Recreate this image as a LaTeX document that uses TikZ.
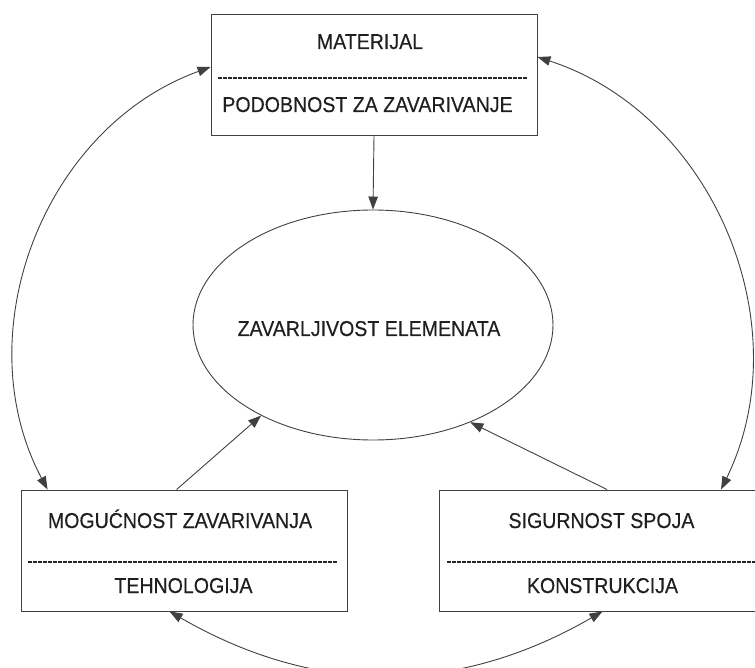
\documentclass[tikz,border=0pt]{standalone}
\usepackage{fontspec}
\setmainfont[FakeStretch=0.91,FakeBold=0.4]{Liberation Sans}
\usetikzlibrary{arrows.meta,shapes.geometric}

\definecolor{linegray}{HTML}{404040}

\tikzset{
  box/.style={rectangle, draw=linegray, line width=0.9pt, minimum width=326pt, minimum height=121pt, inner sep=0pt},
  oval/.style={ellipse, draw=linegray, line width=0.9pt, minimum width=360pt, minimum height=230pt, inner sep=0pt},
  txt/.style={font=\fontsize{21.5}{25}\selectfont, text=black!88, inner sep=0pt, anchor=base},
  sep/.style={line width=1.3pt, dash pattern=on 3.5pt off 1.5pt, black!85},
  link/.style={line width=0.9pt, linegray}
}

\begin{document}
\begin{tikzpicture}[x=1pt, y=-1pt, >={Triangle[length=13pt,width=9.5pt]}]

  \useasboundingbox (0,0) rectangle (755,668);
  \clip (0,0) rectangle (755,668);

  % TOP
  \node [box] (mat) at (374,75) {};
  \node [txt] (matA) at (370,49) {MATERIJAL};
  \draw [sep] (218,78) -- (527,78);
  \node [txt] (matB) at (367.5,112) {PODOBNOST ZA ZAVARIVANJE};

  % MIDDLE
  \node [oval] (zav) at (373,325) {};
  \node [txt] (zavA) at (369,336) {ZAVARLJIVOST ELEMENATA};

  % BOTTOM LEFT
  \node [box] (teh) at (184,550.5) {};
  \node [txt] (tehA) at (180,528) {MOGUĆNOST ZAVARIVANJA};
  \draw [sep] (28,562) -- (337,562);
  \node [txt] (tehB) at (183.5,593) {TEHNOLOGIJA};

  % BOTTOM RIGHT
  \node [box] (kon) at (602.5,550.5) {};
  \node [txt] (konA) at (601.5,528) {SIGURNOST SPOJA};
  \draw [sep] (447,562) -- (760,562);
  \node [txt] (konB) at (602.5,593) {KONSTRUKCIJA};

  % arrows into the ellipse
  \draw [link, ->] (mat.south) -- (zav.north);
  \draw [link, ->] ([xshift=156pt]teh.north west) -- (zav.219);
  \draw [link, ->] ([xshift=168pt]kon.north west) -- (zav.-45);

  % outer arcs
  \draw [link, <->] ([yshift=8pt]mat.west) to[bend right=49] ([xshift=27pt]teh.north west);
  \draw [link, <->] ([yshift=18pt]mat.east) to[bend left=49] ([xshift=282pt]kon.north west);
  \draw [link, <->] ([xshift=149pt]teh.south west) to[bend right=30] (kon.south);

\end{tikzpicture}
\end{document}
